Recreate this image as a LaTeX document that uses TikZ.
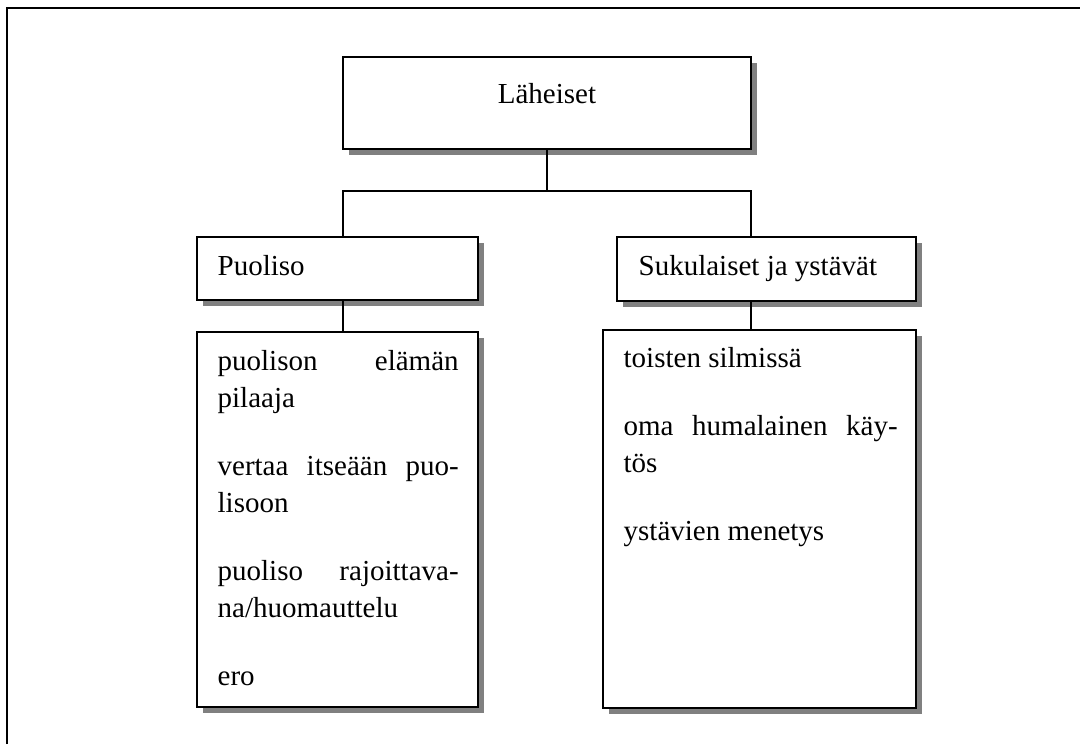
\documentclass[tikz,border=0pt]{standalone}
\usepackage{fontspec}
\setmainfont{Liberation Serif}
\usetikzlibrary{shadows}
\newcommand{\jline}[1]{\makebox[\linewidth][s]{#1}}
\begin{document}
\begin{tikzpicture}[x=0.5pt, y=-0.5pt, line width=0.65pt,
  box/.style={draw, line width=0.75pt, fill=white, inner sep=0pt,
    drop shadow={shadow xshift=2.8pt, shadow yshift=-2.8pt, fill=gray, opacity=1}},
  txt/.style={anchor=base west, inner sep=0pt, font=\fontsize{14.5}{18.5}\selectfont}]
\useasboundingbox (0,0) rectangle (1080,744);
\draw[line width=1.2pt] (7,744) |- (1080,8);
\node[box, minimum width=204pt, minimum height=46pt] (lah) at (547,103){};
\node[box, minimum width=140.5pt, minimum height=31.5pt] (puo) at (337.5,268.5){};
\node[box, minimum width=149.5pt, minimum height=32pt] (suk) at (766.5,269){};
\node[box, minimum width=140.5pt, minimum height=187.5pt] (puolist) at (337.5,519.5){};
\node[box, minimum width=156.5pt, minimum height=189pt] (suklist) at (759.5,519){};
\node[txt, anchor=base] (lah-t) at (547,103){Läheiset};
\node[txt] (puo-t) at (217,275){Puoliso};
\node[txt] (suk-t) at (638,275){Sukulaiset ja ystävät};
\node[txt] (puolist-t) at (217,370){\parbox[t]{120.5pt}{%
  \jline{puolison elämän}\\
  pilaaja\\[15.5pt]
  \jline{vertaa itseään puo-}\\
  lisoon\\[15.5pt]
  \jline{puoliso rajoittava-}\\
  na/huomauttelu\\[15.5pt]
  ero}};
\node[txt] (suklist-t) at (623,367){\parbox[t]{137pt}{%
  toisten silmissä\\[15.5pt]
  \jline{oma humalainen käy-}\\
  tös\\[15.5pt]
  ystävien menetys}};
\coordinate (jl) at (343,191);
\coordinate (jr) at (751,191);
\draw (lah.south) -- (lah.south |- jl);
\draw (puo.north -| jl) -- (jl) -- (jr) -- (suk.north -| jr);
\draw (puo.south -| jl) -- (puolist.north -| jl);
\draw (suk.south -| jr) -- (suklist.north -| jr);
\end{tikzpicture}
\end{document}
